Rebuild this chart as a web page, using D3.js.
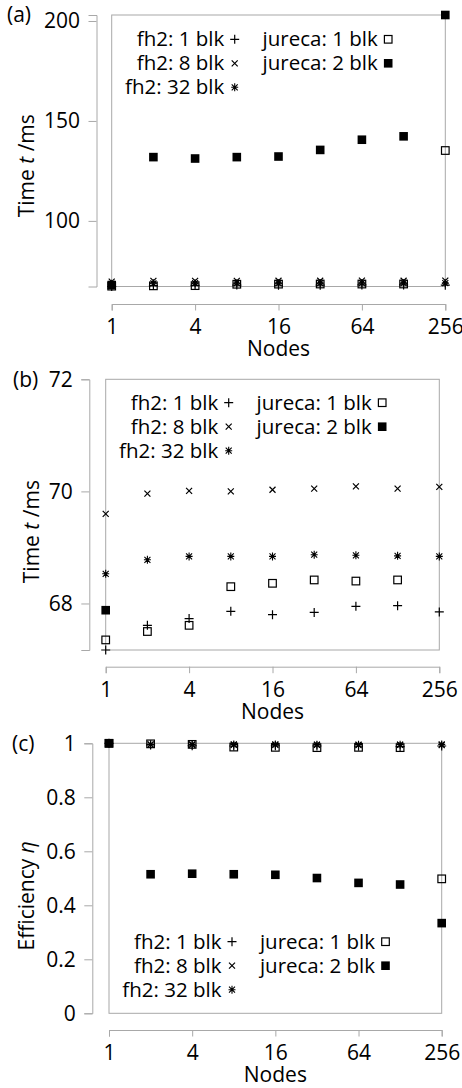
<!DOCTYPE html>
<html>
<head>
<meta charset="utf-8">
<script src="https://cdn.jsdelivr.net/npm/d3@7"></script>
<style>
  body { margin: 0; background: #fff; }
  svg { display: block; font-family: "Open Sans", sans-serif; }
</style>
</head>
<body>
<div id="chart"></div>
<script>
// Nodes (log2 axis) and the ticks shown
const nodes = [1, 2, 4, 8, 16, 32, 64, 128, 256];
const xTicks = [1, 4, 16, 64, 256];

// Time per step in ms, panels (a) and (b)
const fh2Blk1Time   = [67.17, 67.61, 67.73, 67.86, 67.80, 67.84, 67.95, 67.96, 67.85];
const fh2Blk8Time   = [69.60, 69.96, 70.01, 70.00, 70.03, 70.05, 70.09, 70.05, 70.08];
const fh2Blk32Time  = [68.53, 68.78, 68.84, 68.84, 68.84, 68.87, 68.86, 68.85, 68.84];
const jurBlk1Time   = [67.35, 67.50, 67.61, 68.30, 68.36, 68.42, 68.40, 68.42, 135.2];
const jurBlk2Time   = [67.88, 131.9, 131.2, 131.9, 132.2, 135.5, 140.6, 142.3, 203.0];

// Efficiency, panel (c)
const fh2Blk1Eff  = [1, 0.994, 0.991, 0.990, 0.991, 0.990, 0.989, 0.988, 0.990];
const fh2Blk8Eff  = [1, 0.995, 0.994, 0.994, 0.994, 0.994, 0.993, 0.994, 0.993];
const fh2Blk32Eff = [1, 0.996, 0.996, 0.996, 0.996, 0.995, 0.995, 0.995, 0.996];
const jurBlk1Eff  = [1, 0.998, 0.996, 0.986, 0.985, 0.984, 0.985, 0.984, 0.498];
const jurBlk2Eff  = [1, 0.515, 0.517, 0.515, 0.513, 0.501, 0.483, 0.477, 0.334];

const seriesNames = ["fh2: 1 blk", "fh2: 8 blk", "fh2: 32 blk", "jureca: 1 blk", "jureca: 2 blk"];
const seriesMarks = ["plus", "cross", "star", "open", "filled"];

const grey = "#a8a8a8";
const W = 462, H = 1088;

const svg = d3.select("#chart").append("svg")
    .attr("width", W)
    .attr("height", H);

// marker path around x,y
function marker(g, kind, x, y) {
    if (kind === "plus") {
        g.append("path").attr("d", `M${x-4.5},${y}H${x+4.5}M${x},${y-4.5}V${y+4.5}`)
            .attr("stroke", "#000").attr("stroke-width", 1.2);
    } else if (kind === "cross") {
        g.append("path").attr("d", `M${x-3},${y-3}L${x+3},${y+3}M${x-3},${y+3}L${x+3},${y-3}`)
            .attr("stroke", "#000").attr("stroke-width", 1.2);
    } else if (kind === "star") {
        g.append("path").attr("d", `M${x},${y-4}V${y+4}M${x-3.5},${y}H${x+3.5}M${x-3},${y-3}L${x+3},${y+3}M${x-3},${y+3}L${x+3},${y-3}`)
            .attr("stroke", "#000").attr("stroke-width", 1.1);
    } else if (kind === "open") {
        g.append("rect").attr("x", x - 3.8).attr("y", y - 3.8).attr("width", 7.6).attr("height", 7.6)
            .attr("fill", "none").attr("stroke", "#000").attr("stroke-width", 1.2);
    } else {
        g.append("rect").attr("x", x - 4.3).attr("y", y - 4.3).attr("width", 8.6).attr("height", 8.6)
            .attr("fill", "#000");
    }
}

function drawPanel(p) {
    const g = svg.append("g");

    const x = d3.scaleLog().base(2)
        .domain([1, 256])
        .range([p.left, p.right]);
    const y = d3.scaleLinear()
        .domain(p.yDomain)
        .range([p.bottom, p.top]);

    // plot frame
    g.append("rect")
        .attr("x", p.left).attr("y", p.top)
        .attr("width", p.right - p.left).attr("height", p.bottom - p.top)
        .attr("fill", "none").attr("stroke", grey).attr("stroke-width", 1);

    // offset y axis
    const yAxis = g.append("g")
        .attr("transform", `translate(${p.yAxisX},0)`)
        .call(d3.axisLeft(y).tickValues(p.yTicks).tickFormat(p.yFormat)
            .tickSizeOuter(0).tickSize(8).tickPadding(8.5));

    // offset x axis
    const xAxis = g.append("g")
        .attr("transform", `translate(0,${p.xAxisY})`)
        .call(d3.axisBottom(x).tickValues(xTicks).tickFormat(d3.format("d"))
            .tickSizeOuter(0).tickSize(6.5).tickPadding(9));

    [yAxis, xAxis].forEach(a => {
        a.select(".domain").attr("stroke", grey);
        a.selectAll(".tick line").attr("stroke", grey);
        a.selectAll(".tick text").attr("fill", "#000")
            .style("font-family", "'Open Sans', sans-serif")
            .style("font-size", "21px");
    });

    // x label
    g.append("text")
        .attr("x", (p.left + p.right) / 2)
        .attr("y", p.xAxisY + 45)
        .attr("dy", "0.35em")
        .attr("text-anchor", "middle")
        .style("font-size", "21px")
        .text("Nodes");

    // y label
    const yl = g.append("text")
        .attr("transform", `translate(${p.yLabelX},${(p.top + p.bottom) / 2 + p.yLabelShift}) rotate(-90)`)
        .attr("dy", "0.35em")
        .attr("text-anchor", "middle")
        .style("font-size", "21px");
    p.yLabel.forEach(part => {
        yl.append("tspan").style("font-style", part[1] ? "italic" : "normal").text(part[0]);
    });

    // panel tag
    g.append("text")
        .attr("x", p.tagX)
        .attr("y", p.top)
        .attr("dy", "0.35em")
        .style("font-size", "21px")
        .text(p.tag);

    // points
    const pts = g.append("g");
    p.series.forEach((vals, i) => {
        vals.forEach((v, j) => {
            if (v < p.yDomain[0] - 1e-9 || v > p.yDomain[1] + 1e-9) return;
            marker(pts, seriesMarks[i], x(nodes[j]), y(v));
        });
    });

    // legend
    const leg = g.append("g");
    const cols = [[0, 1, 2], [3, 4]];
    cols.forEach((idx, c) => {
        idx.forEach((si, r) => {
            const ty = p.legendY + r * 24;
            const tx = p.left + (c === 0 ? 112.5 : 266);
            leg.append("text")
                .attr("x", tx).attr("y", ty)
                .attr("dy", "0.35em")
                .attr("text-anchor", "end")
                .style("font-size", "20.5px")
                .text(seriesNames[si]);
            marker(leg, seriesMarks[si], tx + 10.5, ty);
        });
    });
}

drawPanel({
    tag: "(a)", tagX: 7,
    left: 111.7, right: 445.3, top: 15, bottom: 286.5,
    yAxisX: 96.5, xAxisY: 304,
    yDomain: d3.extent([].concat(fh2Blk1Time, fh2Blk8Time, fh2Blk32Time, jurBlk1Time, jurBlk2Time)),
    yTicks: [100, 150, 200], yFormat: d3.format("d"),
    yLabel: [["Time ", false], ["t", true], [" /ms", false]], yLabelX: 26.7, yLabelShift: 15,
    legendY: 39.3,
    series: [fh2Blk1Time, fh2Blk8Time, fh2Blk32Time, jurBlk1Time, jurBlk2Time]
});

drawPanel({
    tag: "(b)", tagX: 13,
    left: 105.7, right: 439.3, top: 379.3, bottom: 650,
    yAxisX: 89.3, xAxisY: 666.7,
    yDomain: [d3.min(fh2Blk1Time), 72],
    yTicks: [68, 70, 72], yFormat: d3.format("d"),
    yLabel: [["Time ", false], ["t", true], [" /ms", false]], yLabelX: 31.7, yLabelShift: 17,
    legendY: 402.7,
    series: [fh2Blk1Time, fh2Blk8Time, fh2Blk32Time, jurBlk1Time, jurBlk2Time]
});

drawPanel({
    tag: "(c)", tagX: 12,
    left: 109, right: 441.7, top: 743.3, bottom: 1013.3,
    yAxisX: 92.3, xAxisY: 1030,
    yDomain: [0, 1],
    yTicks: [0, 0.2, 0.4, 0.6, 0.8, 1], yFormat: d => d3.format("")(d),
    yLabel: [["Efficiency ", false], ["η", true]], yLabelX: 26.7, yLabelShift: 17.5,
    legendY: 941.7,
    series: [fh2Blk1Eff, fh2Blk8Eff, fh2Blk32Eff, jurBlk1Eff, jurBlk2Eff]
});
</script>
</body>
</html>
